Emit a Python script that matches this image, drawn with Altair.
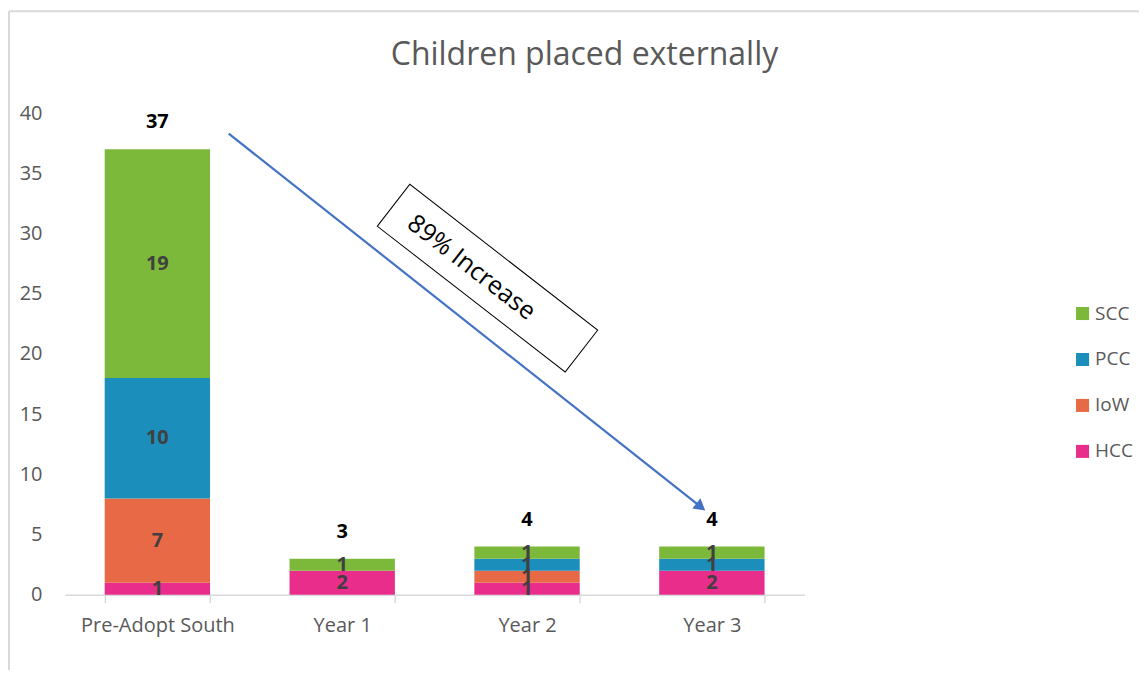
import altair as alt
import pandas as pd

categories = ["Pre-Adopt South", "Year 1", "Year 2", "Year 3"]
series = ["HCC", "IoW", "PCC", "SCC"]
hcc = [1, 2, 1, 2]
iow = [7, 0, 1, 0]
pcc = [10, 0, 1, 1]
scc = [19, 1, 1, 1]
colors = {"SCC": "#7CB83A", "PCC": "#1B8EBB", "IoW": "#E86945", "HCC": "#E82E8A"}

# annotation (in data units: x = category index, y = value)
arrow_x = [0.386, 2.94]
arrow_y = [38.3, 7.3]
head_x = [2.94]
head_y = [7.3]
box_x = [1.786]
box_y = [26.3]
note_x = [1.70]
note_y = [27.2]
note_text = ["89% Increase"]

FONT = "Open Sans"
GREY = "#595959"

rows = []
for i, c in enumerate(categories):
    for rank, (s, vals) in enumerate(zip(series, [hcc, iow, pcc, scc])):
        rows.append({"category": c, "series": s, "value": vals[i], "rank": rank})
df = pd.DataFrame(rows)

legend_order = ["SCC", "PCC", "IoW", "HCC"]

x_band = alt.X("category:N", sort=categories, title=None,
               scale=alt.Scale(paddingInner=0.43, paddingOuter=0.215),
               axis=alt.Axis(labelAngle=0, labelFontSize=20, labelColor=GREY, labelFont=FONT,
                             domainColor="#D9D9D9", domainWidth=1.5, tickColor="#D9D9D9",
                             tickWidth=1.5, tickSize=8, tickBand="extent", labelPadding=13))

base = alt.Chart(df)

bars = base.transform_filter("datum.value > 0").mark_bar().encode(
    x=x_band,
    y=alt.Y("value:Q", stack="zero", title=None, scale=alt.Scale(domain=[0, 40]),
            axis=alt.Axis(values=list(range(0, 45, 5)), labelFontSize=20, labelColor=GREY,
                          labelFont=FONT, domain=False, ticks=False, grid=False, labelPadding=23)),
    color=alt.Color("series:N", title=None,
                    scale=alt.Scale(domain=legend_order, range=[colors[s] for s in legend_order]),
                    legend=alt.Legend(orient="none", legendX=1009, legendY=191, labelFontSize=19,
                                      labelColor=GREY, labelFont=FONT, symbolType="square",
                                      symbolSize=170, symbolStrokeWidth=0, rowPadding=26,
                                      labelOffset=3)),
    order=alt.Order("rank:Q", sort="ascending"),
)

seg_labels = base.transform_filter("datum.value > 0").transform_stack(
    stack="value", groupby=["category"], sort=[alt.SortField("rank", order="ascending")],
    as_=["v0", "v1"]
).transform_calculate(mid="(datum.v0 + datum.v1) / 2").mark_text(
    font=FONT, fontSize=20, fontWeight="bold", color="#404040", baseline="middle"
).encode(
    x=alt.X("category:N", sort=categories),
    y=alt.Y("mid:Q"),
    text=alt.Text("value:Q"),
)

totals = base.transform_aggregate(total="sum(value)", groupby=["category"]).mark_text(
    font=FONT, fontSize=20, fontWeight="bold", color="#000000", baseline="middle", dy=-27
).encode(
    x=alt.X("category:N", sort=categories),
    y=alt.Y("total:Q"),
    text=alt.Text("total:Q"),
)

band_layers = alt.layer(bars, seg_labels, totals)

xq = alt.Scale(domain=[-0.5, 3.5])

arrow_df = pd.DataFrame({"ax": arrow_x, "ay": arrow_y})
arrow = alt.Chart(arrow_df).mark_line(color="#4472C4", strokeWidth=2.2).encode(
    x=alt.X("ax:Q", scale=xq, axis=None),
    y=alt.Y("ay:Q"),
)
head = alt.Chart(pd.DataFrame({"ax": head_x, "ay": head_y})).mark_point(
    shape="triangle-right", filled=True, color="#4472C4", opacity=1, size=170, angle=38.5
).encode(
    x=alt.X("ax:Q", scale=xq, axis=None),
    y=alt.Y("ay:Q"),
)
box = alt.Chart(pd.DataFrame({"ax": box_x, "ay": box_y})).mark_point(
    shape="M-1,-0.223L1,-0.223L1,0.223L-1,0.223Z", filled=True, fill="white",
    stroke="black", strokeWidth=1, opacity=1, size=238 * 238, angle=37.8
).encode(
    x=alt.X("ax:Q", scale=xq, axis=None),
    y=alt.Y("ay:Q"),
)
note = alt.Chart(pd.DataFrame({"ax": note_x, "ay": note_y, "t": note_text})).mark_text(
    font=FONT, fontSize=25, color="#000000", angle=37.8, align="center", baseline="middle"
).encode(
    x=alt.X("ax:Q", scale=xq, axis=None),
    y=alt.Y("ay:Q"),
    text="t:N",
)

annot = alt.layer(arrow, head, box, note)

frame_left = alt.Chart(pd.DataFrame({"k": [0]})).mark_rule(color="#D9D9D9", strokeWidth=2).encode(
    x=alt.value(-56), y=alt.value(-102), y2=alt.value(590))
frame_top = alt.Chart(pd.DataFrame({"k": [0]})).mark_rule(color="#D9D9D9", strokeWidth=2).encode(
    x=alt.value(-56), x2=alt.value(1100), y=alt.value(-102))

chart = alt.layer(band_layers, annot, frame_left, frame_top).resolve_scale(
    x="independent"
).properties(
    width=740, height=482,
    autosize=alt.AutoSizeParams(type="none"),
    padding={"left": 57, "top": 105, "right": 335, "bottom": 75},
    title=alt.TitleParams("Children placed externally", fontSize=32, color=GREY, font=FONT,
                          fontWeight="normal", anchor="middle", frame="group", dx=150, offset=-62),
).configure_view(stroke=None)

chart.save("out.html", embed_options={"renderer": "svg", "actions": False})
